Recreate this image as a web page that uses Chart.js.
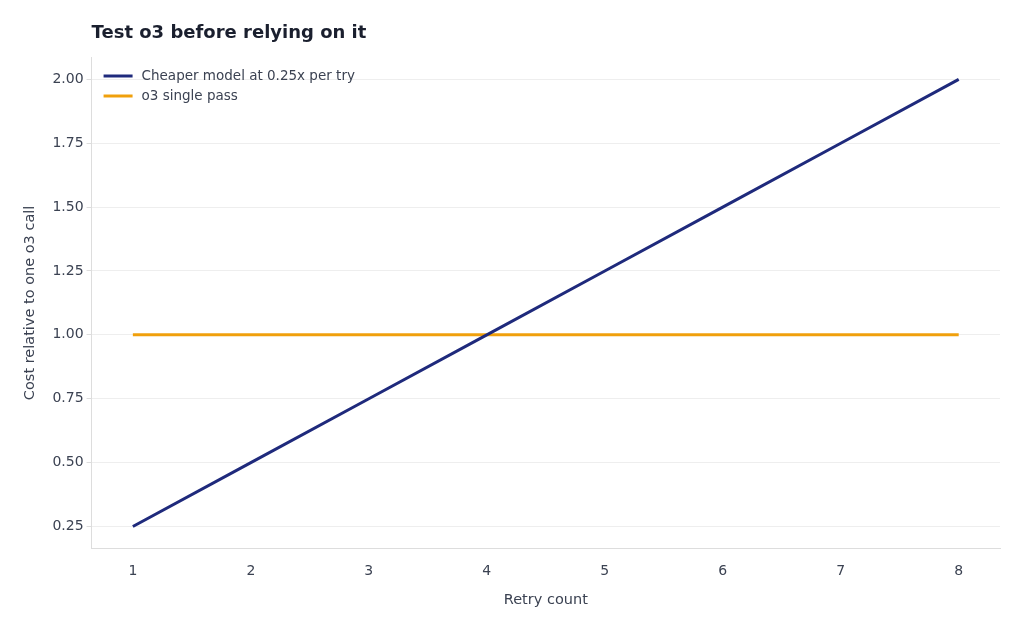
<!DOCTYPE html>
<html>
<head>
<meta charset="utf-8">
<script src="https://cdn.jsdelivr.net/npm/chart.js@4"></script>
<style>
body { margin: 0; background: #fff; }
#wrap { width: 1024px; height: 631px; }
</style>
</head>
<body>
<div id="wrap"><canvas id="myChart"></canvas></div>
<script>
const retries = [1, 2, 3, 4, 5, 6, 7, 8]
const cheaperCost = [0.25, 0.5, 0.75, 1.0, 1.25, 1.5, 1.75, 2.0]
const o3Cost = [1, 1, 1, 1, 1, 1, 1, 1]
const yTicks = [0.25, 0.5, 0.75, 1.0, 1.25, 1.5, 1.75, 2.0]
const seriesNames = ['Cheaper model at 0.25x per try', 'o3 single pass']
const colors = ['#1f2a7c', '#f0a00c']
const titleText = 'Test o3 before relying on it'

const font = 'DejaVu Sans'

// legend inside the plot and title aligned with plot area
const extras = {
	id: 'extras',
	afterDraw(chart) {
		const ctx = chart.ctx
		const a = chart.chartArea
		ctx.save()
		ctx.font = 'bold 18px "' + font + '"'
		ctx.fillStyle = '#1a1f2e'
		ctx.textBaseline = 'middle'
		ctx.fillText(titleText, a.left, 33)
		ctx.font = '13.5px "' + font + '"'
		seriesNames.forEach((name, i) => {
			const y = a.top + 19 + i * 20
			ctx.strokeStyle = colors[i]
			ctx.lineWidth = 3
			ctx.beginPath()
			ctx.moveTo(a.left + 12, y)
			ctx.lineTo(a.left + 41, y)
			ctx.stroke()
			ctx.fillStyle = '#3b4252'
			ctx.fillText(name, a.left + 50, y)
		})
		ctx.restore()
	}
}

new Chart(document.querySelector('#myChart'), {
	type: 'line',
	data: {
		datasets: [
			{ label: seriesNames[0], data: retries.map((x, i) => ({ x, y: cheaperCost[i] })), borderColor: colors[0], borderWidth: 3, pointRadius: 0 },
			{ label: seriesNames[1], data: retries.map((x, i) => ({ x, y: o3Cost[i] })), borderColor: colors[1], borderWidth: 3, pointRadius: 0 }
		]
	},
	options: {
		responsive: true,
		maintainAspectRatio: false,
		animation: false,
		layout: { padding: { left: 18, right: 24, top: 57, bottom: 18 } },
		plugins: {
			legend: { display: false },
			tooltip: { enabled: false },
			title: { display: false }
		},
		scales: {
			x: {
				type: 'linear', min: 0.65, max: 8.35,
				afterBuildTicks: axis => { axis.ticks = retries.map(v => ({ value: v })) },
				grid: { display: false },
				border: { color: '#dddddd' },
				ticks: { color: '#3b4252', font: { family: font, size: 14 }, padding: 6 },
				title: { display: true, text: 'Retry count', color: '#3b4252', font: { family: font, size: 14.5 }, padding: { top: 6 } }
			},
			y: {
				min: 0.1625, max: 2.0875,
				afterBuildTicks: axis => { axis.ticks = yTicks.map(v => ({ value: v })) },
				grid: { color: '#eeeeee', drawTicks: true, tickColor: '#dddddd', tickLength: 5 },
				border: { color: '#dddddd' },
				ticks: { color: '#3b4252', font: { family: font, size: 14 }, callback: v => v.toFixed(2) },
				title: { display: true, text: 'Cost relative to one o3 call', color: '#3b4252', font: { family: font, size: 14.5 }, padding: { bottom: 10 } }
			}
		}
	},
	plugins: [extras]
})
</script>
</body>
</html>
